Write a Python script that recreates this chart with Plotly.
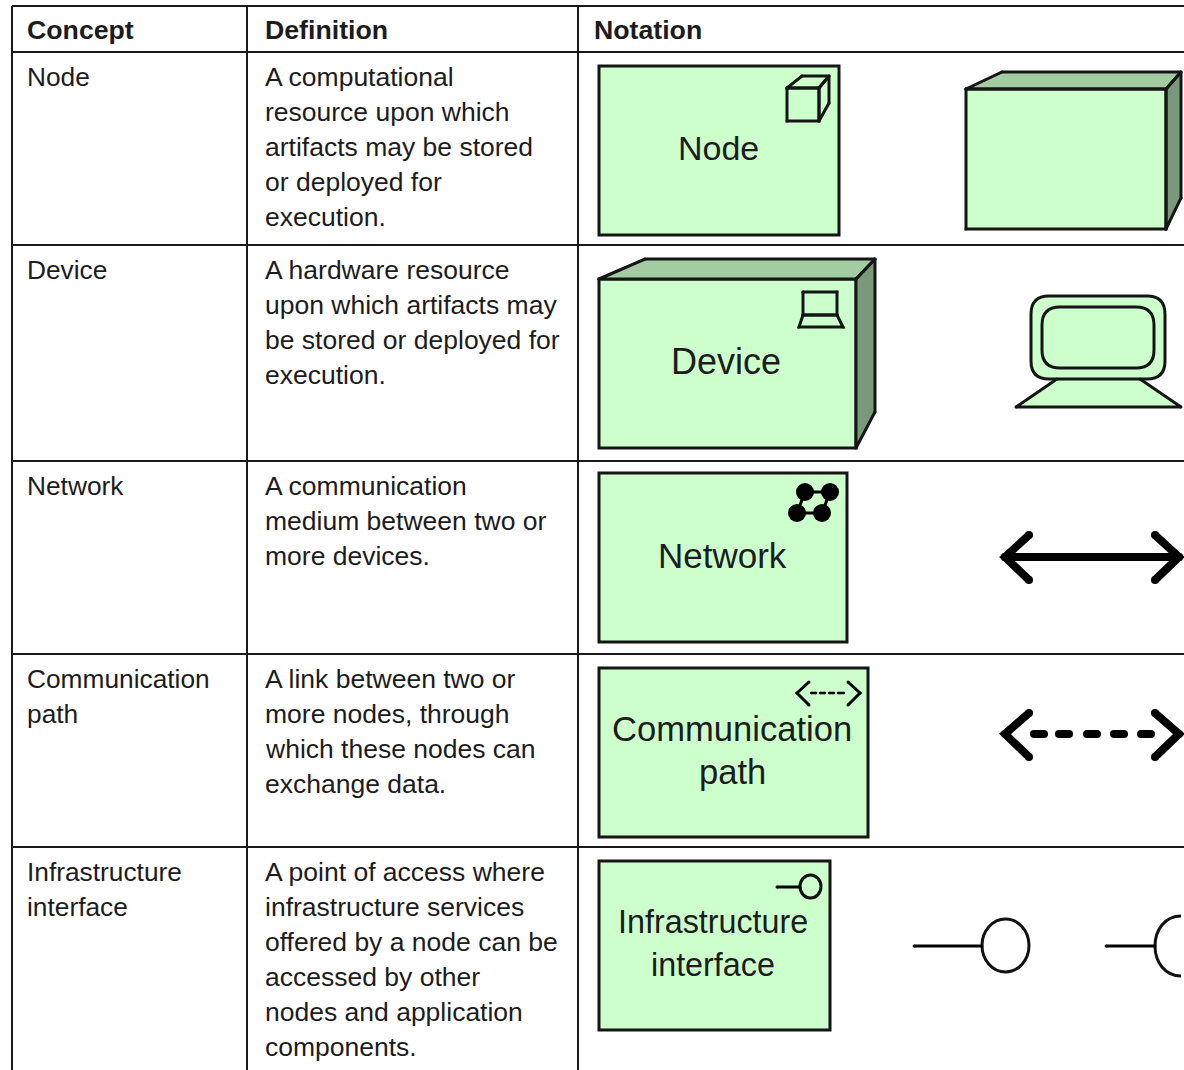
import plotly.graph_objects as go

WIDTH, HEIGHT = 1184, 1070
FONT = "Liberation Sans"
INK = "#1c1c1c"
EDGE = "#151515"
FILL = "#ccffcc"
TOP_FILL = "#a3cca3"
SIDE_FILL = "#7a997a"

# ---- table text ----
headers = ["Concept", "Definition", "Notation"]
header_x = [27, 265, 594]
header_y = 30
concepts = [["Node"], ["Device"], ["Network"], ["Communication", "path"], ["Infrastructure", "interface"]]
definitions = [
    ["A computational", "resource upon which", "artifacts may be stored", "or deployed for", "execution."],
    ["A hardware resource", "upon which artifacts may", "be stored or deployed for", "execution."],
    ["A communication", "medium between two or", "more devices."],
    ["A link between two or", "more nodes, through", "which these nodes can", "exchange data."],
    ["A point of access where", "infrastructure services", "offered by a node can be", "accessed by other", "nodes and application", "components."],
]
row_first_line_y = [77, 270, 486, 679, 872]
line_step = 35

# ---- table rules ----
rule_h_y = [6, 52, 245, 461, 654, 847]
rule_v_x = [12, 247, 578]

# ---- element boxes ----
box_x0 = [599, 599, 599, 599, 599]
box_y0 = [66, 279, 473, 668, 861]
box_x1 = [839, 856, 847, 868, 830]
box_y1 = [235, 448, 642, 837, 1030]
box_labels = [["Node"], ["Device"], ["Network"], ["Communication", "path"], ["Infrastructure", "interface"]]
box_label_x = [718, 726, 722, 732, 713]
box_label_y = [[148], [361], [555], [729, 772], [922, 965]]
box_label_size = [34, 36, 35, 34.6, 32.3]

# ---- polygons ----
node3d_front = [(966, 89), (1166, 89), (1166, 229), (966, 229)]
node3d_top = [(966, 89), (1002, 72), (1181, 72), (1166, 89)]
node3d_side = [(1166, 89), (1181, 72), (1181, 198), (1166, 229)]
device_top = [(599, 279), (645, 259), (875, 259), (856, 279)]
device_side = [(856, 279), (875, 259), (875, 412), (856, 448)]
cube_front = [(787, 88), (819, 88), (819, 121), (787, 121)]
cube_top = [(787, 88), (802, 76), (829, 76), (819, 88)]
cube_side = [(819, 88), (829, 76), (829, 103), (819, 121)]
mini_screen = [(803, 292), (837, 292), (837, 315), (803, 315)]
mini_base = [(803, 315), (837, 315), (843, 327), (799, 327)]
device_base = [(1057, 379), (1140, 379), (1181, 407), (1016, 407)]

# ---- rounded rectangles: x0, y0, x1, y1, corner ----
screen_outer = (1031, 296, 1165, 379, 18)
screen_inner = (1042, 307, 1154, 368, 18)

# ---- network icon ----
net_x = [805, 830, 822, 797]
net_y = [492, 492, 513, 513]

# ---- arrows ----
solid_x = [1029, 1005, 1029, None, 1005, 1179, None, 1155, 1179, 1155]
solid_y = [535, 557, 580, None, 557, 557, None, 535, 557, 580]
dash_head_x = [1029, 1005, 1029, None, 1155, 1179, 1155]
dash_head_y = [713, 734, 757, None, 713, 734, 757]
dash_x = [1034, 1044, None, 1059, 1069, None, 1087, 1097, None, 1114, 1124, None, 1141, 1151]
dash_y = [734, 734, None, 734, 734, None, 734, 734, None, 734, 734, None, 734, 734]
icon_head_x = [809, 797, 809, None, 848, 860, 848]
icon_head_y = [682, 693, 705, None, 682, 693, 705]
icon_dash_x = [811, 816, None, 820, 825, None, 829, 834, None, 838, 844]
icon_dash_y = [693, 693, None, 693, 693, None, 693, 693, None, 693, 693]

# ---- interface symbols ----
lollipop_icon_line = ([777, 800], [887, 887])
lollipop_icon_circle = (800, 875, 821, 898)
lollipop_line = ([914, 982], [946, 946])
lollipop_circle = (982, 919, 1029, 972)
socket_line = ([1106, 1155], [946, 946])
socket_arc_x = [1181, 1165, 1155, 1155, 1155, 1165, 1181]
socket_arc_y = [916, 916, 930, 946, 962, 976, 976]


def poly(points, fill):
    path = "M" + " L".join(f"{x},{y}" for x, y in points) + " Z"
    return dict(type="path", path=path, fillcolor=fill, layer="below", line=dict(width=0))


def rounded(spec, fill, width=3):
    x0, y0, x1, y1, r = spec
    path = (f"M{x0+r},{y0} L{x1-r},{y0} Q{x1},{y0} {x1},{y0+r} L{x1},{y1-r} Q{x1},{y1} {x1-r},{y1} "
            f"L{x0+r},{y1} Q{x0},{y1} {x0},{y1-r} L{x0},{y0+r} Q{x0},{y0} {x0+r},{y0} Z")
    return dict(type="path", path=path, fillcolor=fill, layer="below", line=dict(color=EDGE, width=width))


def stroke(x, y, width, color="#000000"):
    return go.Scatter(x=x, y=y, mode="lines+markers", hoverinfo="skip", showlegend=False,
                      line=dict(color=color, width=width),
                      marker=dict(color=color, size=width, line=dict(width=0)))


def outline(points, width=3, closed=True):
    pts = list(points) + (list(points[:1]) if closed else [])
    return stroke([p[0] for p in pts], [p[1] for p in pts], width, EDGE)


def label(x, y, text, size, anchor="left", bold=False):
    return dict(x=x, y=y, text=f"<b>{text}</b>" if bold else text, showarrow=False, xanchor=anchor,
                yanchor="middle", borderpad=0, borderwidth=0,
                font=dict(family=FONT, size=size, color=INK))


shapes = []
for y in rule_h_y:
    shapes.append(dict(type="line", x0=rule_v_x[0], x1=WIDTH, y0=y, y1=y, layer="below",
                       line=dict(color="#1a1a1a", width=2)))
for x in rule_v_x:
    shapes.append(dict(type="line", x0=x, x1=x, y0=rule_h_y[0], y1=HEIGHT, layer="below",
                       line=dict(color="#1a1a1a", width=2)))

for x0, y0, x1, y1 in zip(box_x0, box_y0, box_x1, box_y1):
    shapes.append(dict(type="rect", x0=x0, y0=y0, x1=x1, y1=y1, fillcolor=FILL, layer="below",
                       line=dict(color=EDGE, width=3)))

shapes += [poly(node3d_top, TOP_FILL), poly(node3d_side, SIDE_FILL), poly(node3d_front, FILL)]
shapes += [poly(device_top, TOP_FILL), poly(device_side, SIDE_FILL)]
shapes += [poly(device_base, FILL), rounded(screen_outer, FILL), rounded(screen_inner, FILL)]

for cx0, cy0, cx1, cy1 in (lollipop_icon_circle, lollipop_circle):
    shapes.append(dict(type="circle", x0=cx0, y0=cy0, x1=cx1, y1=cy1, fillcolor="rgba(0,0,0,0)",
                       layer="below", line=dict(color="#111111", width=3)))
arc = (f"M{socket_arc_x[0]},{socket_arc_y[0]} C{socket_arc_x[1]},{socket_arc_y[1]} "
       f"{socket_arc_x[2]},{socket_arc_y[2]} {socket_arc_x[3]},{socket_arc_y[3]} "
       f"C{socket_arc_x[4]},{socket_arc_y[4]} {socket_arc_x[5]},{socket_arc_y[5]} "
       f"{socket_arc_x[6]},{socket_arc_y[6]}")
shapes.append(dict(type="path", path=arc, fillcolor="rgba(0,0,0,0)", layer="below",
                   line=dict(color="#111111", width=3)))

annotations = []
for text, x in zip(headers, header_x):
    annotations.append(label(x, header_y, text, 26.7, bold=True))
for lines, defs, y0 in zip(concepts, definitions, row_first_line_y):
    for i, text in enumerate(lines):
        annotations.append(label(header_x[0], y0 + i * line_step, text, 26.3))
    for i, text in enumerate(defs):
        annotations.append(label(header_x[1], y0 + i * line_step, text, 26.5))
for lines, x, ys, size in zip(box_labels, box_label_x, box_label_y, box_label_size):
    for text, y in zip(lines, ys):
        annotations.append(label(x, y, text, size, anchor="center"))

fig = go.Figure()
for pts in (node3d_top, node3d_side, node3d_front, device_top, device_side):
    fig.add_trace(outline(pts))
for pts in (cube_front, cube_top, cube_side, mini_screen, mini_base):
    fig.add_trace(outline(pts, 3))
fig.add_trace(outline([device_base[0], device_base[3], device_base[2], device_base[1]], 3, closed=False))
fig.add_trace(stroke(solid_x, solid_y, 8))
fig.add_trace(stroke(dash_head_x, dash_head_y, 8))
fig.add_trace(stroke(dash_x, dash_y, 8))
fig.add_trace(stroke(icon_head_x, icon_head_y, 3))
fig.add_trace(stroke(icon_dash_x, icon_dash_y, 2.5))
fig.add_trace(stroke(net_x + net_x[:1], net_y + net_y[:1], 3))
fig.add_trace(go.Scatter(x=net_x, y=net_y, mode="markers", hoverinfo="skip", showlegend=False,
                         marker=dict(color="#000000", size=18, line=dict(width=0))))
for line_x, line_y in (lollipop_icon_line, lollipop_line, socket_line):
    fig.add_trace(stroke(line_x, line_y, 3))

fig.update_layout(
    width=WIDTH, height=HEIGHT, margin=dict(l=0, r=0, t=0, b=0),
    paper_bgcolor="white", plot_bgcolor="white", showlegend=False,
    shapes=shapes, annotations=annotations,
    xaxis=dict(range=[0, WIDTH], visible=False, fixedrange=True),
    yaxis=dict(range=[HEIGHT, 0], visible=False, fixedrange=True),
)
fig.write_html("out.html", config={"displayModeBar": False},
               post_script="document.body.style.margin='0';document.body.style.overflow='hidden';")
